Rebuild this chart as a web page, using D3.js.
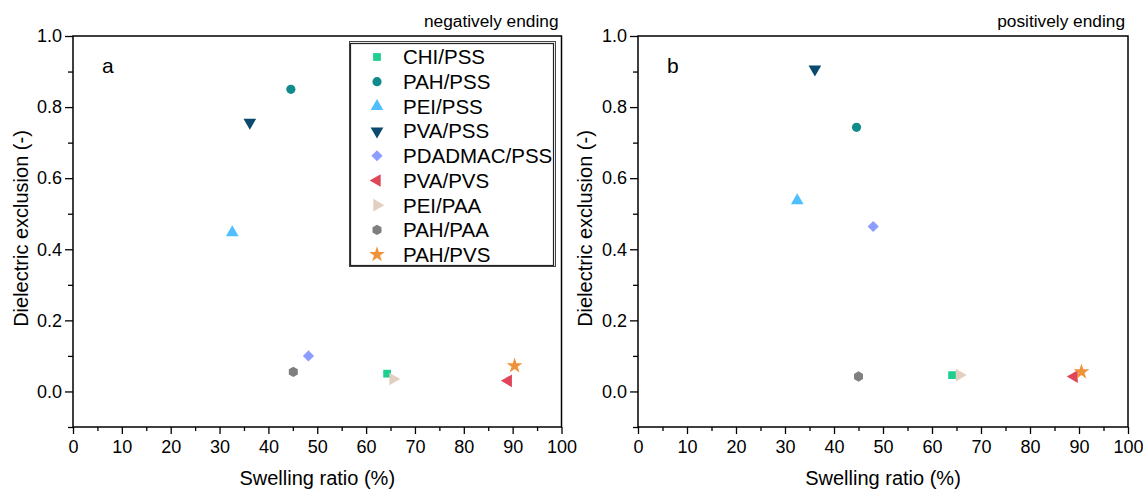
<!DOCTYPE html>
<html>
<head>
<meta charset="utf-8">
<script src="https://cdn.jsdelivr.net/npm/d3@7"></script>
<style>
  body { margin: 0; background: #fff; }
  text { font-family: "Liberation Sans", Arial, sans-serif; fill: #000; }
</style>
</head>
<body>
<div id="chart"></div>
<script>
// data
var systems = ["CHI/PSS", "PAH/PSS", "PEI/PSS", "PVA/PSS", "PDADMAC/PSS", "PVA/PVS", "PEI/PAA", "PAH/PAA", "PAH/PVS"];
var colors = ["#1dcf8e", "#108b8b", "#4fbfff", "#0b4a6e", "#8c9cff", "#e0455a", "#e3cfc0", "#7f7f7f", "#f0923a"];
var shapes = ["square", "circle", "up", "down", "diamond", "left", "right", "hexagon", "star"];

var swellA = [64.3, 44.6, 32.6, 36.2, 48.2, 89.1, 65.5, 45.1, 90.4];
var exclA = [0.05, 0.85, 0.447, 0.757, 0.10, 0.03, 0.035, 0.055, 0.072];
var swellB = [64.1, 44.6, 32.5, 36.1, 48.0, 89.0, 65.6, 45.0, 90.5];
var exclB = [0.046, 0.743, 0.537, 0.907, 0.464, 0.042, 0.046, 0.042, 0.055];

var xMajor = d3.range(0, 101, 10);
var xMinor = d3.range(5, 100, 10);
var yMajor = [0, 0.2, 0.4, 0.6, 0.8, 1.0];
var yMinor = [-0.1, 0.1, 0.3, 0.5, 0.7, 0.9];

var svgWidth = 1143, svgHeight = 490;

var svg = d3.select("#chart")
    .append("svg")
        .attr("width", svgWidth)
        .attr("height", svgHeight);

var hexagon = {
    draw: function (ctx, size) {
        var r = Math.sqrt(size / (1.5 * Math.sqrt(3)));
        for (var k = 0; k < 6; k++) {
            var a = Math.PI / 2 + k * Math.PI / 3;
            var px = r * Math.cos(a), py = r * Math.sin(a);
            if (k == 0) ctx.moveTo(px, py); else ctx.lineTo(px, py);
        }
        ctx.closePath();
    }
};

function marker(g, shape, x, y, color) {
    var type = d3.symbolSquare, size = 60, rot = 0;
    if (shape == "circle") { type = d3.symbolCircle; size = 66; }
    if (shape == "up") { type = d3.symbolTriangle; size = 70; }
    if (shape == "down") { type = d3.symbolTriangle; size = 70; rot = 180; }
    if (shape == "left") { type = d3.symbolTriangle; size = 70; rot = -90; }
    if (shape == "right") { type = d3.symbolTriangle; size = 70; rot = 90; }
    if (shape == "diamond") { type = d3.symbolSquare; size = 62; rot = 45; }
    if (shape == "hexagon") { type = hexagon; size = 70; }
    if (shape == "star") { type = d3.symbolStar; size = 78; }
    g.append("path")
        .attr("d", d3.symbol().type(type).size(size)())
        .attr("transform", `translate(${x},${y}) rotate(${rot})`)
        .attr("fill", color);
}

function panel(left, right, xs, ys, letter, note, ytitleX) {
    var top = 36, bottom = 427;
    var xScale = d3.scaleLinear().domain([0, 100]).range([left, right]);
    var yScale = d3.scaleLinear().domain([-0.1, 1.0]).range([bottom, top]);
    var g = svg.append("g");

    g.append("g")
        .attr("transform", `translate(0,${bottom})`)
        .call(d3.axisBottom(xScale).tickValues(xMajor).tickSizeInner(7).tickSizeOuter(0).tickPadding(6).tickFormat(d3.format("d")))
        .call(ax => ax.select(".domain").remove());
    g.append("g")
        .attr("transform", `translate(0,${bottom})`)
        .call(d3.axisBottom(xScale).tickValues(xMinor).tickSizeInner(4).tickSizeOuter(0).tickFormat(""))
        .call(ax => ax.select(".domain").remove());
    g.append("g")
        .attr("transform", `translate(${left},0)`)
        .call(d3.axisLeft(yScale).tickValues(yMajor).tickSizeInner(8).tickSizeOuter(0).tickPadding(3).tickFormat(d3.format(".1f")))
        .call(ax => ax.select(".domain").remove());
    g.append("g")
        .attr("transform", `translate(${left},0)`)
        .call(d3.axisLeft(yScale).tickValues(yMinor).tickSizeInner(5).tickSizeOuter(0).tickFormat(""))
        .call(ax => ax.select(".domain").remove());

    g.selectAll(".tick line").attr("stroke", "#000").attr("stroke-width", 1.3);
    g.selectAll(".tick text").attr("font-size", 18).attr("font-family", "Liberation Sans, Arial, sans-serif").attr("fill", "#000");

    g.append("rect")
        .attr("x", left).attr("y", top)
        .attr("width", right - left).attr("height", bottom - top)
        .attr("fill", "none").attr("stroke", "#000").attr("stroke-width", 1.5);

    for (var i = 0; i < systems.length; i++) {
        marker(g, shapes[i], xScale(xs[i]), yScale(ys[i]), colors[i]);
    }

    g.append("text").attr("x", (left + right) / 2).attr("y", 485)
        .attr("text-anchor", "middle").attr("font-size", 20).text("Swelling ratio (%)");
    g.append("text").attr("transform", `translate(${ytitleX},${(top + bottom) / 2 - 3}) rotate(-90)`)
        .attr("text-anchor", "middle").attr("font-size", 20).text("Dielectric exclusion (-)");
    g.append("text").attr("x", left + 29).attr("y", 73).attr("font-size", 21).text(letter);
    g.append("text").attr("x", right - 3).attr("y", 27)
        .attr("text-anchor", "end").attr("font-size", 17.3).text(note);
    return g;
}

panel(73, 561.5, swellA, exclA, "a", "negatively ending", 28);
panel(638, 1128, swellB, exclB, "b", "positively ending", 592);

// legend in panel a
var leg = svg.append("g");
leg.append("rect").attr("x", 349.5).attr("y", 41.5).attr("width", 206).attr("height", 225)
    .attr("fill", "none").attr("stroke", "#444").attr("stroke-width", 1);
leg.append("rect").attr("x", 350.5).attr("y", 43.5).attr("width", 203).attr("height", 222)
    .attr("fill", "#fff").attr("stroke", "#222").attr("stroke-width", 1.2);
for (var i = 0; i < systems.length; i++) {
    var ly = 57 + i * 24.7;
    marker(leg, shapes[i], 377, ly, colors[i]);
    leg.append("text").attr("x", 403).attr("y", ly).attr("dy", "0.36em")
        .attr("font-size", 20.5).text(systems[i]);
}
</script>
</body>
</html>
